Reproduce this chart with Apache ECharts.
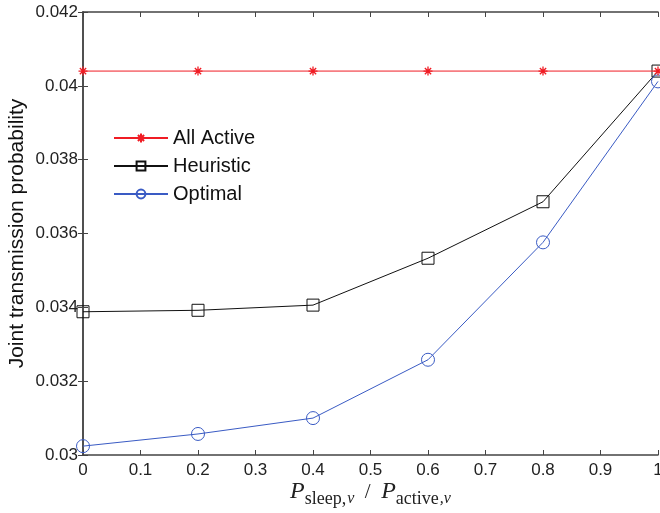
<!DOCTYPE html>
<html>
<head>
<meta charset="utf-8">
<script src="https://cdn.jsdelivr.net/npm/echarts@6/dist/echarts.min.js"></script>
<style>
    html, body { margin: 0; padding: 0; background: #fff; }
    #chart { width: 660px; height: 513px; }
</style>
</head>
<body>
<div id="chart"></div>
<script>
'use strict';

// 数据
var ratios = [0, 0.2, 0.4, 0.6, 0.8, 1];
var allActive = [0.0404, 0.0404, 0.0404, 0.0404, 0.0404, 0.0404];
var heuristic = [0.03388, 0.03392, 0.03406, 0.03533, 0.03686, 0.0404];
var optimal = [0.03024, 0.03057, 0.03100, 0.03258, 0.03576, 0.04012];
var yTicks = [0.03, 0.032, 0.034, 0.036, 0.038, 0.04, 0.042];

var pairs = function (ys) {
    return ratios.map(function (x, i) {
        return [x, ys[i]];
    });
};

var chart = echarts.init(document.getElementById('chart'));

var axisFont = { fontFamily: 'Liberation Sans, Arial, sans-serif', fontSize: 17, color: '#222' };
var asterisk = 'path://M0,-10V10M-10,0H10M-7,-7L7,7M-7,7L7,-7';

var sharedX = {
    type: 'value', min: 0, max: 1, interval: 0.1,
    axisLine: { lineStyle: { color: '#444', width: 1.5 } },
    axisTick: { inside: true, length: 5, lineStyle: { color: '#444' } },
    splitLine: { show: false }
};
var sharedY = {
    type: 'value', min: yTicks[0], max: yTicks[yTicks.length - 1], interval: 0.002,
    axisLine: { lineStyle: { color: '#444', width: 1.5 } },
    axisTick: { inside: true, length: 5, lineStyle: { color: '#444' } },
    splitLine: { show: false }
};

var serif = 'Liberation Serif, Times New Roman, serif';

var option = {
    backgroundColor: '#fff',
    animation: false,
    grid: { left: 83, right: 2, top: 12, bottom: 58, outerBoundsMode: 'none' },
    legend: {
        orient: 'vertical',
        left: 108,
        top: 123,
        itemWidth: 54,
        itemHeight: 11,
        itemGap: 8,
        textStyle: { fontFamily: 'Liberation Sans, Arial, sans-serif', fontSize: 20, lineHeight: 20, color: '#111' },
        data: ['All Active', 'Heuristic', 'Optimal']
    },
    xAxis: [
        Object.assign({}, sharedX, {
            position: 'bottom',
            axisLabel: Object.assign({ margin: 7, formatter: function (v) { return String(+v.toFixed(1)); } }, axisFont),
            name: '{i|P}{sub|sleep,}{subi|v}{sl|  /  }{i|P}{sub|active}{subi|,v}',
            nameLocation: 'middle',
            nameGap: 21,
            nameMoveOverlap: false,
            nameTextStyle: {
                fontFamily: serif,
                rich: {
                    i: { fontFamily: serif, fontStyle: 'italic', fontSize: 24, color: '#222' },
                    sl: { fontFamily: serif, fontSize: 21, color: '#222' },
                    sub: { fontFamily: serif, fontSize: 18, color: '#222', padding: [14, 0, 0, 0] },
                    subi: { fontFamily: serif, fontStyle: 'italic', fontSize: 16, color: '#222', padding: [14, 0, 0, 1] }
                }
            }
        }),
        Object.assign({}, sharedX, { position: 'top', axisLabel: { show: false } })
    ],
    yAxis: [
        Object.assign({}, sharedY, {
            position: 'left',
            axisLabel: Object.assign({ margin: 5, formatter: function (v) { return String(+v.toFixed(3)); } }, axisFont),
            name: 'Joint transmission probability',
            nameLocation: 'middle',
            nameGap: 55,
            nameMoveOverlap: false,
            nameTextStyle: { fontFamily: 'Liberation Sans, Arial, sans-serif', fontSize: 21, color: '#111' }
        }),
        Object.assign({}, sharedY, { position: 'right', axisLabel: { show: false } })
    ],
    series: [
        {
            name: 'All Active',
            type: 'line',
            data: pairs(allActive),
            symbol: asterisk,
            symbolSize: 9,
            lineStyle: { color: '#f01c24', width: 1 },
            itemStyle: { color: 'none', borderColor: '#f01c24', borderWidth: 1.3 },
            z: 3
        },
        {
            name: 'Heuristic',
            type: 'line',
            data: pairs(heuristic),
            symbol: 'rect',
            symbolSize: 12,
            lineStyle: { color: '#111', width: 1 },
            itemStyle: { color: 'none', borderColor: '#111', borderWidth: 1 },
            z: 2
        },
        {
            name: 'Optimal',
            type: 'line',
            data: pairs(optimal),
            symbol: 'circle',
            symbolSize: 13,
            lineStyle: { color: '#3a5bc4', width: 1 },
            itemStyle: { color: 'none', borderColor: '#3a5bc4', borderWidth: 1 },
            z: 2
        }
    ]
};

chart.setOption(option);
</script>
</body>
</html>
